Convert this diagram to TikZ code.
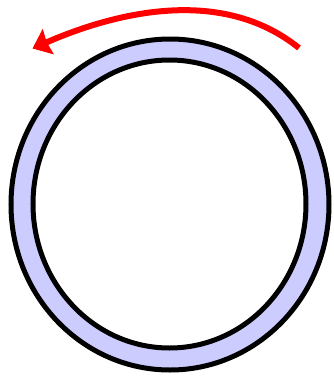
\documentclass[tikz,border=0pt]{standalone}
\usepackage{tikz}
\usetikzlibrary{arrows.meta}
\usepackage{xcolor}
\definecolor{ringfill}{HTML}{CCCCFF}
\definecolor{turnred}{HTML}{FF0000}

\begin{document}
\begin{tikzpicture}[x=1pt, y=-1pt,
  rim/.style={draw=black, line width=5pt},
  turn/.style={-{Stealth[length=17pt, width=27pt, inset=1.5pt]}, line width=6pt, turnred}]
  \useasboundingbox (0,0) rectangle (334,376);
  % ring between the two rims
  \fill[ringfill, even odd rule] (170,204.5) ellipse [x radius=159, y radius=165.5]
                                 (169.5,204) ellipse [x radius=136.5, y radius=144];
  \draw[rim] (170,204.5) ellipse [x radius=159, y radius=165.5];
  \draw[rim] (169.5,204) ellipse [x radius=136.5, y radius=144];
  % direction of turning
  \coordinate (start) at (299,48);
  \coordinate (tip) at (32.5,48.5);
  \draw[turn] (start) .. controls (222,-14) and (116,12) .. (tip);
\end{tikzpicture}
\end{document}
